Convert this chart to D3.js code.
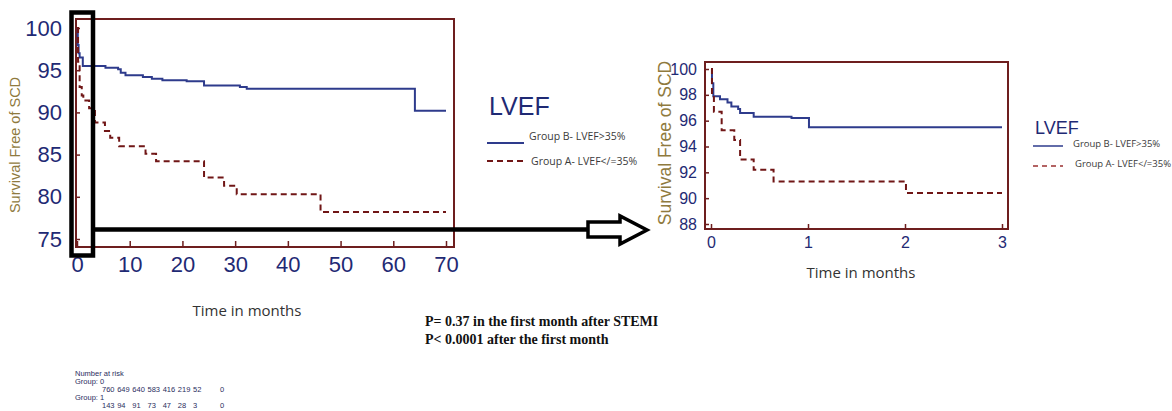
<!DOCTYPE html>
<html>
<head>
<meta charset="utf-8">
<script src="https://cdn.jsdelivr.net/npm/d3@7"></script>
<style>
  body { margin: 0; background: #fff; }
  svg { display: block; }
</style>
</head>
<body>
<svg width="1172" height="411"></svg>
<script>
const svg = d3.select('svg');

// ---- data ----
// full follow-up (months, % survival free of SCD)
const groupBFull = [[0,100],[0.15,98],[0.3,97],[0.5,96.5],[1.1,95.5],[5.4,95.3],[7.8,95.1],[8.3,94.7],[9.2,94.4],
  [12.5,94.2],[14.2,94.0],[16.2,93.8],[20.8,93.7],[24.1,93.2],[30.9,93.0],[32.2,92.8],[64.1,90.2],[70,90.2]];
const groupAFull = [[0,100],[0.2,96],[0.5,93],[0.9,92],[1.2,91.4],[2.3,90.5],[3.4,88.8],[5.3,87.8],[6.3,87.0],
  [8.0,86.0],[13.0,85.1],[15.0,84.2],[24.1,82.3],[27.9,81.3],[30.3,80.3],[46.2,78.2],[70,78.2]];
// first 3 months
const groupBEarly = [[0,100],[0.01,98.9],[0.024,97.9],[0.093,97.65],[0.17,97.4],[0.21,97.1],[0.28,96.9],[0.3,96.6],
  [0.44,96.3],[0.83,96.2],[1.01,95.5],[3,95.5]];
const groupAEarly = [[0,100],[0.01,98],[0.03,96.7],[0.11,95.25],[0.24,94.5],[0.3,93.0],[0.44,92.2],[0.645,91.3],
  [2.01,90.4],[3,90.4]];

const fullXTicks = [0,10,20,30,40,50,60,70];
const fullYTicks = [75,80,85,90,95,100];
const earlyXTicks = [0,1,2,3];
const earlyYTicks = [88,90,92,94,96,98,100];

const legendLabels = ['Group B- LVEF>35%', 'Group A- LVEF</=35%'];
const riskTimes = [0,10,20,30,40,50,60,70];
const riskGroup0 = [760,649,640,583,416,219,52,0];
const riskGroup1 = [143,94,91,73,47,28,3,0];

// ---- colours ----
const blue = '#2e3b8c';
const red = '#701616';
const frameCol = '#6e1e1e';
const navy = '#1f2a74';
const gold = '#8f7a3e';

const step = (x, y) => d3.line().x(d => x(d[0])).y(d => y(d[1])).curve(d3.curveStepAfter);

// ================= left (full) chart =================
const xL = d3.scaleLinear().domain([0,70]).range([77,446]);
const yL = d3.scaleLinear().domain([75,100]).range([239,28]);

svg.append('rect')
  .attr('x', 76).attr('y', 19).attr('width', 454 - 76).attr('height', 247 - 19)
  .attr('fill', 'none').attr('stroke', frameCol).attr('stroke-width', 2);

// minor + major x ticks (inside)
const gxL = svg.append('g').attr('transform', 'translate(0,247)');
gxL.call(d3.axisBottom(xL).tickValues(d3.range(5,70,10)).tickSizeInner(-3).tickSizeOuter(0).tickFormat(''));
gxL.call(d3.axisBottom(xL).tickValues(fullXTicks).tickSizeInner(-6).tickSizeOuter(0).tickPadding(9));
gxL.select('.domain').remove();
gxL.selectAll('line').attr('stroke', frameCol).attr('stroke-width', 1.5);
gxL.selectAll('text').attr('fill', navy).style('font', '22px "Liberation Sans", Arial, sans-serif');

const gyL = svg.append('g').attr('transform', 'translate(76,0)')
  .call(d3.axisLeft(yL).tickValues(fullYTicks).tickSizeInner(-4).tickSizeOuter(0).tickPadding(14));
gyL.select('.domain').remove();
gyL.selectAll('line').attr('stroke', frameCol).attr('stroke-width', 1.5);
gyL.selectAll('text').attr('fill', navy).style('font', '22px "Liberation Sans", Arial, sans-serif');

svg.append('path').datum(groupBFull).attr('d', step(xL, yL))
  .attr('fill', 'none').attr('stroke', blue).attr('stroke-width', 2);
svg.append('path').datum(groupAFull).attr('d', step(xL, yL))
  .attr('fill', 'none').attr('stroke', red).attr('stroke-width', 2).attr('stroke-dasharray', '6,4');

svg.append('text').attr('transform', 'translate(20,145) rotate(-90)')
  .attr('text-anchor', 'middle').attr('fill', gold)
  .style('font', '14.5px "Liberation Sans", Arial, sans-serif').text('Survival Free of SCD');

svg.append('text').attr('x', 247).attr('y', 316).attr('text-anchor', 'middle').attr('fill', '#333')
  .style('font', '15px "Open Sans", sans-serif').text('Time in months');

// left legend
svg.append('text').attr('x', 489).attr('y', 115).attr('fill', navy)
  .style('font', '25px "Liberation Sans", Arial, sans-serif').text('LVEF');
const legL = svg.append('g');
legL.selectAll('line').data(legendLabels).join('line')
  .attr('x1', 487).attr('x2', 524)
  .attr('y1', (d, i) => 143 + i * 18).attr('y2', (d, i) => 143 + i * 18)
  .attr('stroke', (d, i) => i ? red : blue).attr('stroke-width', 2)
  .attr('stroke-dasharray', (d, i) => i ? '6,4' : null);
legL.selectAll('text').data(legendLabels).join('text')
  .attr('x', (d, i) => 529 + i * 2).attr('y', (d, i) => i ? 165 : 140)
  .attr('fill', '#3a3a3a').style('font', '10.5px "Open Sans", sans-serif').text(d => d);

// ================= right (first 3 months) chart =================
const xR = d3.scaleLinear().domain([0,3]).range([711,1002]);
const yR = d3.scaleLinear().domain([88,100]).range([224,69]);

svg.append('rect')
  .attr('x', 705).attr('y', 62).attr('width', 1008 - 705).attr('height', 229 - 62)
  .attr('fill', 'none').attr('stroke', frameCol).attr('stroke-width', 2);

const gxR = svg.append('g').attr('transform', 'translate(0,229)');
gxR.call(d3.axisBottom(xR).tickValues(d3.range(0.25,3,0.25)).tickSizeInner(-4).tickSizeOuter(0).tickFormat(''));
gxR.call(d3.axisBottom(xR).tickValues(earlyXTicks).tickSizeInner(-5).tickSizeOuter(0).tickPadding(8).tickFormat(d3.format('d')));
gxR.select('.domain').remove();
gxR.selectAll('line').attr('stroke', frameCol).attr('stroke-width', 1.5);
gxR.selectAll('text').attr('fill', navy).style('font', '16px "Liberation Sans", Arial, sans-serif');

const gyR = svg.append('g').attr('transform', 'translate(705,0)');
gyR.call(d3.axisLeft(yR).tickValues(d3.range(89,100,2)).tickSizeInner(-4).tickSizeOuter(0).tickFormat(''));
gyR.call(d3.axisLeft(yR).tickValues(earlyYTicks).tickSizeInner(-4).tickSizeOuter(0).tickPadding(8));
gyR.select('.domain').remove();
gyR.selectAll('line').attr('stroke', frameCol).attr('stroke-width', 1.5);
gyR.selectAll('text').attr('fill', navy).style('font', '16px "Liberation Sans", Arial, sans-serif');

svg.append('path').datum(groupBEarly).attr('d', step(xR, yR))
  .attr('fill', 'none').attr('stroke', blue).attr('stroke-width', 2);
svg.append('path').datum(groupAEarly).attr('d', step(xR, yR))
  .attr('fill', 'none').attr('stroke', red).attr('stroke-width', 2).attr('stroke-dasharray', '6,4');

svg.append('text').attr('transform', 'translate(671,143) rotate(-90)')
  .attr('text-anchor', 'middle').attr('fill', gold)
  .style('font', '17.5px "Liberation Sans", Arial, sans-serif').text('Survival Free of SCD');

svg.append('text').attr('x', 861).attr('y', 278).attr('text-anchor', 'middle').attr('fill', '#333')
  .style('font', '15px "Open Sans", sans-serif').text('Time in months');

// right legend
svg.append('text').attr('x', 1035).attr('y', 134).attr('fill', navy)
  .style('font', '18px "Liberation Sans", Arial, sans-serif').text('LVEF');
const legR = svg.append('g');
legR.selectAll('line').data(legendLabels).join('line')
  .attr('x1', 1033).attr('x2', 1063)
  .attr('y1', (d, i) => 146 + i * 20).attr('y2', (d, i) => 146 + i * 20)
  .attr('stroke', (d, i) => i ? '#9a3030' : blue).attr('stroke-width', 1.5)
  .attr('stroke-dasharray', (d, i) => i ? '5,4' : null);
legR.selectAll('text').data(legendLabels).join('text')
  .attr('x', (d, i) => 1073 + i * 2).attr('y', (d, i) => 147 + i * 20)
  .attr('fill', '#3a3a3a').style('font', '9.5px "Open Sans", sans-serif').text(d => d);

// ================= zoom box and arrow =================
svg.append('rect').attr('x', 71.5).attr('y', 12.5).attr('width', 21.5).attr('height', 243)
  .attr('fill', 'none').attr('stroke', '#000').attr('stroke-width', 4.5);
svg.append('line').attr('x1', 93).attr('x2', 590).attr('y1', 229.5).attr('y2', 229.5)
  .attr('stroke', '#000').attr('stroke-width', 4.5);
svg.append('path')
  .attr('d', 'M588,222 L620,222 L620,216 L647,230 L620,244 L620,237 L588,237 Z')
  .attr('fill', '#fff').attr('stroke', '#000').attr('stroke-width', 3.5).attr('stroke-linejoin', 'miter');

// ================= p-values =================
const pLines = ['P= 0.37 in the first month after STEMI', 'P< 0.0001 after the first month'];
svg.selectAll('text.pval').data(pLines).join('text').attr('class', 'pval')
  .attr('x', 425).attr('y', (d, i) => 326 + i * 18).attr('fill', '#111')
  .style('font', 'bold 14px "Liberation Serif", "Times New Roman", serif').text(d => d);

// ================= number at risk =================
const riskX = d3.scaleLinear().domain([0,60,70]).range([102,193,220]);
const riskFont = '7.5px "Liberation Sans", Arial, sans-serif';
const riskCol = '#2a2d5e';
const riskHead = [['Number at risk', 376], ['Group: 0', 384], ['Group: 1', 400]];
svg.selectAll('text.rh').data(riskHead).join('text').attr('class', 'rh')
  .attr('x', 75).attr('y', d => d[1]).attr('fill', riskCol).style('font', riskFont).text(d => d[0]);
[riskGroup0, riskGroup1].forEach((row, r) => {
  svg.append('g').selectAll('text').data(row).join('text')
    .attr('x', (d, i) => riskX(riskTimes[i])).attr('y', 392 + r * 16)
    .attr('fill', riskCol).style('font', riskFont).text(d => d);
});
</script>
</body>
</html>
